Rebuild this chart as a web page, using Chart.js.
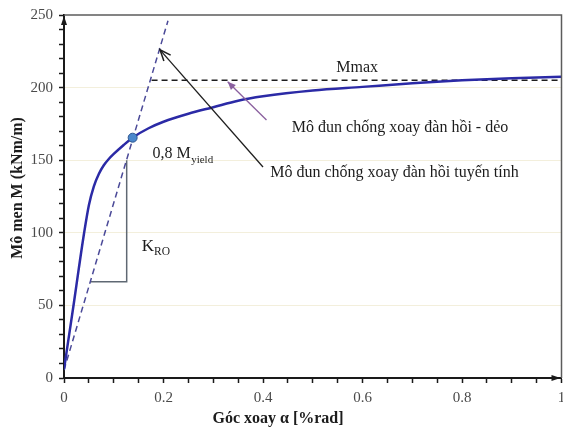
<!DOCTYPE html>
<html>
<head>
<meta charset="utf-8">
<script src="https://cdn.jsdelivr.net/npm/chart.js@4/dist/chart.umd.min.js"></script>
<style>
  html, body { margin: 0; padding: 0; background: #fff; }
  canvas { display: block; }
</style>
</head>
<body>
<canvas id="chart" width="563" height="429"></canvas>
<script>
// Moment–rotation curve of the connection (rotation in %rad, moment in kNm/m)
const rotation = [0, 0.01, 0.02, 0.03, 0.04, 0.05, 0.06, 0.07, 0.08, 0.09, 0.10, 0.12, 0.14,
                  0.17, 0.20, 0.25, 0.30, 0.35, 0.40, 0.50, 0.60, 0.70, 0.80, 0.90, 1.00];
const moment   = [6, 29, 52, 76, 99, 119, 132, 140.5, 146.5, 150.8, 154.3, 160.5, 166,
                  172, 176.5, 182, 186.5, 191, 194, 198, 200.5, 203, 205, 206.5, 207.5];

// Initial elastic stiffness line K_RO
const stiffRotation = [0, 0.209];
const stiffMoment   = [5.5, 246];

// Maximum moment level Mmax
const mmaxRotation = [0.176, 1];
const mmaxMoment   = [205, 205];

// Slope triangle under the stiffness line
const triRotation = [0.053, 0.126, 0.126];
const triMoment   = [66.3, 66.3, 150];

// 0,8 Myield point
const yieldRotation = [0.138];
const yieldMoment   = [165.5];

// Pointer arrows: tail first, head last
const linearArrowRotation  = [0.400, 0.193];
const linearArrowMoment    = [145.3, 226];
const plasticArrowRotation = [0.407, 0.329];
const plasticArrowMoment   = [177.7, 204];

// Axis ranges and tick steps
const xRange = [0, 1];
const yRange = [0, 250];
const xMinorStep = 0.05, xLabelStep = 0.2;
const yMinorStep = 10,   yLabelStep = 50;

const pts = (xs, ys) => xs.map((v, i) => ({ x: v, y: ys[i] }));
const SERIF = '"Liberation Serif", "Times New Roman", serif';

function arrowHead(ctx, fx, fy, tx, ty, len, half, filled) {
  const a = Math.atan2(ty - fy, tx - fx);
  const p1x = tx - len * Math.cos(a) + half * Math.sin(a);
  const p1y = ty - len * Math.sin(a) - half * Math.cos(a);
  const p2x = tx - len * Math.cos(a) - half * Math.sin(a);
  const p2y = ty - len * Math.sin(a) + half * Math.cos(a);
  ctx.beginPath();
  ctx.moveTo(p1x, p1y); ctx.lineTo(tx, ty); ctx.lineTo(p2x, p2y);
  if (filled) { ctx.closePath(); ctx.fill(); } else { ctx.stroke(); }
}

const decor = {
  id: 'decor',
  afterDraw(chart) {
    const { ctx, chartArea: a, scales: { x, y } } = chart;
    ctx.save();

    // frame on top and right
    ctx.strokeStyle = '#5c5c5c';
    ctx.lineWidth = 1.5;
    ctx.beginPath();
    ctx.moveTo(a.left, a.top); ctx.lineTo(a.right, a.top); ctx.lineTo(a.right, a.bottom);
    ctx.stroke();

    // axis arrows
    ctx.fillStyle = '#1a1a1a';
    arrowHead(ctx, a.left, a.top + 20, a.left, a.top + 1, 9, 3, true);
    arrowHead(ctx, a.right - 20, a.bottom, a.right - 1, a.bottom, 9, 3, true);

    // heads of the pointer arrows
    const heads = [
      { idx: 4, color: '#1e1e1e', filled: false, len: 11, half: 4.5 },
      { idx: 5, color: '#8a5f9e', filled: true,  len: 8,  half: 3.5 }
    ];
    heads.forEach(h => {
      const d = chart.getDatasetMeta(h.idx).data;
      const p0 = d[d.length - 2], p1 = d[d.length - 1];
      ctx.strokeStyle = h.color; ctx.fillStyle = h.color; ctx.lineWidth = 1.5;
      arrowHead(ctx, p0.x, p0.y, p1.x, p1.y, h.len, h.half, h.filled);
    });

    // annotations
    ctx.fillStyle = '#1c1c1c';
    ctx.textBaseline = 'alphabetic';
    ctx.textAlign = 'left';

    let px = x.getPixelForValue(0.1777), py = y.getPixelForValue(151.2);
    ctx.font = '16px ' + SERIF;
    ctx.fillText('0,8 M', px, py);
    let w = ctx.measureText('0,8 M').width;
    ctx.font = '11px ' + SERIF;
    ctx.fillText('yield', px + w + 0.5, py + 4.5);

    px = x.getPixelForValue(0.1563); py = y.getPixelForValue(87.2);
    ctx.font = '17px ' + SERIF;
    ctx.fillText('K', px, py);
    w = ctx.measureText('K').width;
    ctx.font = '11.5px ' + SERIF;
    ctx.fillText('RO', px + w, py + 3.5);

    ctx.font = '16px ' + SERIF;
    ctx.fillText('Mmax', x.getPixelForValue(0.5473), y.getPixelForValue(211));
    ctx.fillText('Mô đun chống xoay đàn hồi - dẻo', x.getPixelForValue(0.458), y.getPixelForValue(169.6));
    ctx.fillText('Mô đun chống xoay đàn hồi tuyến tính', x.getPixelForValue(0.4145), y.getPixelForValue(138.6));

    // axis titles
    ctx.font = 'bold 16px ' + SERIF;
    ctx.textAlign = 'center';
    ctx.textBaseline = 'middle';
    ctx.fillText('Góc xoay α [%rad]', 278, 419);
    ctx.translate(17.5, 188);
    ctx.rotate(-Math.PI / 2);
    ctx.fillText('Mô men M (kNm/m)', 0, 0);

    ctx.restore();
  }
};

const isStep = (v, step) => Math.abs(v / step - Math.round(v / step)) < 1e-6;

new Chart(document.getElementById('chart'), {
  type: 'line',
  data: {
    datasets: [
      { // 0: moment–rotation curve
        data: pts(rotation, moment),
        borderColor: '#2b2aa6', borderWidth: 2.5,
        pointRadius: 0, cubicInterpolationMode: 'monotone', order: 2
      },
      { // 1: elastic stiffness line
        data: pts(stiffRotation, stiffMoment),
        borderColor: '#4b4a98', borderWidth: 1.5, borderDash: [6, 4],
        pointRadius: 0, order: 3
      },
      { // 2: Mmax line
        data: pts(mmaxRotation, mmaxMoment),
        borderColor: '#1e1e1e', borderWidth: 1.5, borderDash: [6, 4],
        pointRadius: 0, order: 3
      },
      { // 3: slope triangle
        data: pts(triRotation, triMoment),
        borderColor: '#5f6873', borderWidth: 1.5,
        pointRadius: 0, order: 3
      },
      { // 4: pointer to the linear modulus
        data: pts(linearArrowRotation, linearArrowMoment),
        borderColor: '#1e1e1e', borderWidth: 1.3,
        pointRadius: 0, order: 1
      },
      { // 5: pointer to the elastic-plastic modulus
        data: pts(plasticArrowRotation, plasticArrowMoment),
        borderColor: '#8a5f9e', borderWidth: 1.3,
        pointRadius: 0, order: 1
      },
      { // 6: 0,8 Myield point
        data: pts(yieldRotation, yieldMoment),
        showLine: false,
        pointRadius: 4.5, pointBackgroundColor: '#4a88cc',
        pointBorderColor: '#2d5690', pointBorderWidth: 1, order: 0
      }
    ]
  },
  options: {
    responsive: false,
    animation: false,
    devicePixelRatio: 1,
    layout: { autoPadding: false, padding: { top: 15, right: 1.5, left: 0, bottom: 0 } },
    plugins: { legend: { display: false }, tooltip: { enabled: false } },
    scales: {
      x: {
        type: 'linear', min: xRange[0], max: xRange[1],
        afterFit: s => { s.height = 51; s.paddingLeft = 0; s.paddingRight = 0; },
        border: { display: true, color: '#1a1a1a', width: 2 },
        grid: { drawOnChartArea: false, drawTicks: true, tickLength: 5, tickColor: '#1a1a1a', tickWidth: 1.5 },
        ticks: {
          stepSize: xMinorStep, autoSkip: false, maxRotation: 0, padding: 6,
          color: '#4a4a4a', font: { family: SERIF, size: 15 },
          callback: v => isStep(v, xLabelStep) ? String(+v.toFixed(2)) : ''
        }
      },
      y: {
        type: 'linear', min: yRange[0], max: yRange[1],
        afterFit: s => { s.width = 64; s.paddingTop = 0; s.paddingBottom = 0; },
        border: { display: true, color: '#1a1a1a', width: 2 },
        grid: {
          drawTicks: true, tickLength: 5, tickColor: '#1a1a1a', tickWidth: 1.5,
          color: c => (c.tick && isStep(c.tick.value, yLabelStep) && c.tick.value > 0 && c.tick.value < 250)
            ? '#f3efdc' : 'rgba(0,0,0,0)',
          lineWidth: 1
        },
        ticks: {
          stepSize: yMinorStep, autoSkip: false, padding: 6,
          color: '#4a4a4a', font: { family: SERIF, size: 15 },
          callback: v => isStep(v, yLabelStep) ? String(v) : ''
        }
      }
    }
  },
  plugins: [decor]
});
</script>
</body>
</html>
